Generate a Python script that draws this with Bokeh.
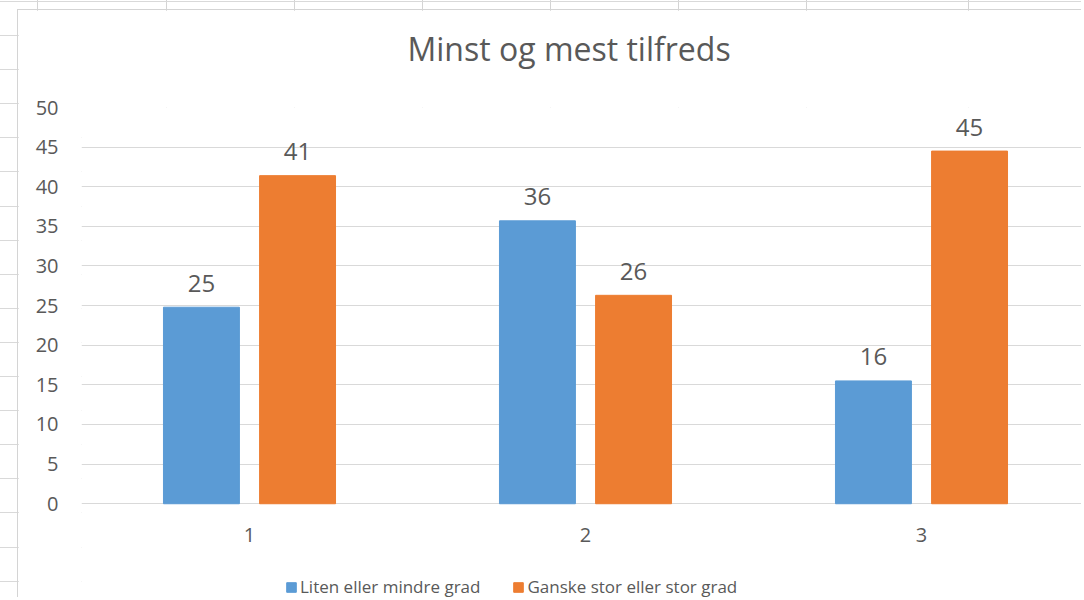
from bokeh.plotting import figure
from bokeh.models import ColumnDataSource, LabelSet, Legend, LegendItem, FixedTicker, Title
from bokeh.layouts import column
from bokeh.core.properties import value
from bokeh.transform import dodge
from bokeh.embed import file_html
from bokeh.resources import INLINE

# ---- data ----
categories = [1, 2, 3]
category_labels = ["1", "2", "3"]
series_names = ["Liten eller mindre grad", "Ganske stor eller stor grad"]
liten = [24.8, 35.7, 15.5]
ganske = [41.4, 26.3, 44.5]
liten_labels = ["25", "36", "16"]
ganske_labels = ["41", "26", "45"]
y_ticks = [0, 5, 10, 15, 20, 25, 30, 35, 40, 45, 50]
title_text = "Minst og mest tilfreds"

BLUE = "#5B9BD5"
ORANGE = "#ED7D31"
TEXT = "#595959"
GRID = "#D9D9D9"
FONT = "Open Sans"

src = ColumnDataSource(dict(x=categories, xl=category_labels, zero=[0] * len(categories),
                            liten=liten, ganske=ganske,
                            liten_lbl=liten_labels, ganske_lbl=ganske_labels))

# frame: x 81..1082, y 107..598 on the page; 0 sits at y=503
p = figure(width=1064, height=588, output_backend="svg", toolbar_location=None, title=None,
           x_axis_location=None,
           x_range=(0.5, 0.5 + 1001 / 336), y_range=(-(598 - 503.3) / 7.92, 50),
           min_border_left=63, min_border_right=0, min_border_top=97, min_border_bottom=0)
p.margin = (9, 0, 0, 17)
p.styles = {"border-left": "1px solid #d4d4d4", "border-top": "1px solid #d4d4d4"}

off = 0.143
bw = 0.226
r1 = p.vbar(x=dodge("x", -off, range=p.x_range), top="liten", width=bw, source=src,
            fill_color=BLUE, line_color=BLUE)
r2 = p.vbar(x=dodge("x", off, range=p.x_range), top="ganske", width=bw, source=src,
            fill_color=ORANGE, line_color=ORANGE)

for col, lbl, o in (("liten", "liten_lbl", -off), ("ganske", "ganske_lbl", off)):
    p.add_layout(LabelSet(x=dodge("x", o, range=p.x_range), y=col, text=lbl, source=src,
                          y_offset=24, text_align="center", text_baseline="middle",
                          text_font=value(FONT), text_font_size=value("24px"),
                          text_color=TEXT))

# category labels under the 0 line
p.add_layout(LabelSet(x="x", y="zero", text="xl", source=src, y_offset=-31,
                      text_align="center", text_baseline="middle",
                      text_font=value(FONT), text_font_size=value("20px"), text_color=TEXT))

# spacer between the frame and the title, then the title itself
p.add_layout(Title(text=" ", text_font=FONT, text_font_size="10px", standoff=10), "above")
p.add_layout(Title(text=title_text, align="left", offset=326, standoff=23,
                   text_font=FONT, text_font_size="32px", text_font_style="normal",
                   text_color=TEXT), "above")

p.yaxis.ticker = FixedTicker(ticks=y_ticks)
ax = p.yaxis[0]
ax.axis_line_color = None
ax.major_tick_line_color = None
ax.minor_tick_line_color = None
ax.major_tick_out = 0
ax.minor_tick_out = 0
ax.major_label_text_font = FONT
ax.major_label_text_font_size = "20px"
ax.major_label_text_color = TEXT
ax.major_label_standoff = 23

for g in p.grid:
    if g.dimension == 0:
        g.grid_line_color = None
    else:
        g.ticker = FixedTicker(ticks=y_ticks)
        g.grid_line_color = GRID
        g.grid_line_width = 1
p.outline_line_color = None

legend = Legend(items=[LegendItem(label=series_names[0], renderers=[r1]),
                       LegendItem(label=series_names[1], renderers=[r2])],
                orientation="horizontal", location=(204, 0),
                glyph_width=12, glyph_height=12, label_standoff=3, spacing=32,
                padding=0, margin=0, border_line_color=None, background_fill_alpha=0,
                label_text_font=FONT, label_text_font_size="17px", label_text_color=TEXT)
p.add_layout(legend)

# spreadsheet cell grid visible around the chart
col_x = [37, 166, 294, 422, 550, 678, 806, 968]
stops = []
for cx in col_x:
    stops.append(f"transparent {cx}px, #d4d4d4 {cx}px, #d4d4d4 {cx + 1}px, transparent {cx + 1}px")
bg = ("repeating-linear-gradient(to bottom, transparent 0px, transparent 1px, #d9d9d9 1px, "
      "#d9d9d9 2px, transparent 2px, transparent 34.1px), "
      "linear-gradient(to right, " + ", ".join(stops) + ")")
page = column(p, styles={"background-image": bg, "background-color": "white"})

open("out.html", "w").write(file_html(page, INLINE))
